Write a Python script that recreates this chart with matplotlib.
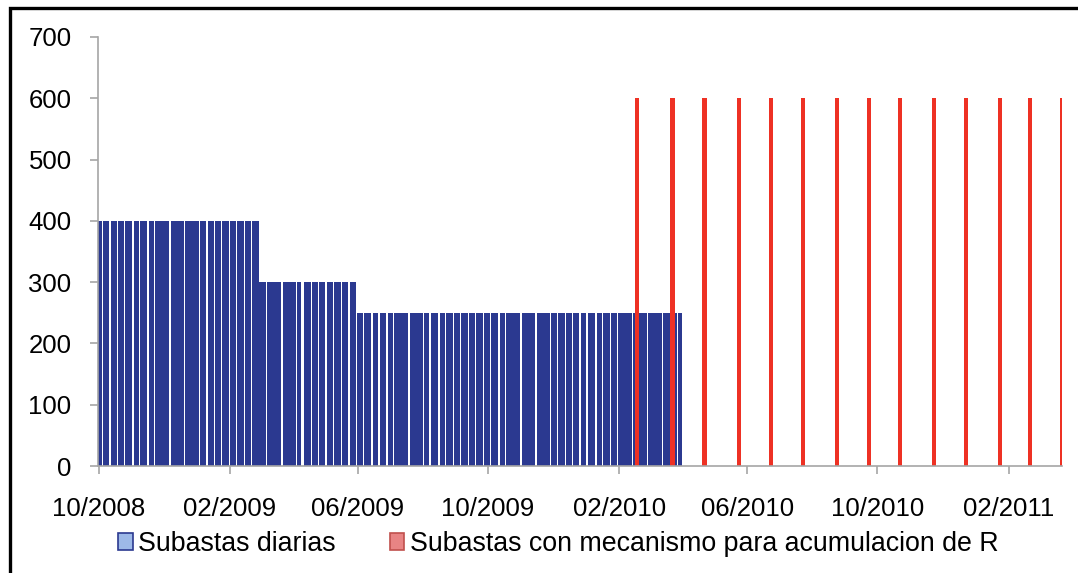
import pandas as pd
import matplotlib
matplotlib.use('Agg')
import matplotlib.pyplot as plt
import matplotlib.dates as mdates
from matplotlib.patches import Patch, Rectangle

# Daily auctions: step levels (start date of each level, value)
daily_starts = ['2008-10-01', '2009-03-02', '2009-06-01']
daily_values = [400, 300, 250]
daily_end = '2010-03-31'
# non-trading days (Colombian holidays) -> gaps between bars
holidays = ['2008-10-13', '2008-11-03', '2008-11-17', '2008-12-08', '2008-12-25',
            '2009-01-01', '2009-01-12', '2009-03-23', '2009-04-09', '2009-04-10',
            '2009-05-01', '2009-05-25', '2009-06-15', '2009-06-22', '2009-06-29',
            '2009-07-20', '2009-08-07', '2009-08-17', '2009-10-12', '2009-11-02',
            '2009-11-16', '2009-12-08', '2009-12-25', '2010-01-01', '2010-01-11',
            '2010-03-22']

# Auctions with reserve accumulation mechanism
reserve_dates = ['2010-02-18', '2010-03-23', '2010-04-22', '2010-05-24', '2010-06-23',
                 '2010-07-23', '2010-08-24', '2010-09-23', '2010-10-22', '2010-11-23',
                 '2010-12-23', '2011-01-24', '2011-02-21', '2011-03-23']
reserve_values = [600] * len(reserve_dates)

# build the daily series from the step levels
days = pd.bdate_range(daily_starts[0], daily_end, freq='C', holidays=holidays)
levels = pd.Series(daily_values, index=pd.to_datetime(daily_starts))
daily = levels.reindex(days, method='ffill')

plt.rcParams['font.family'] = ['Liberation Sans', 'DejaVu Sans']

fig = plt.figure(figsize=(10.78, 5.73), dpi=100)
ax = fig.add_axes([98 / 1078, 1 - 466 / 573, (1062 - 98) / 1078, (466 - 37) / 573])

ax.bar(daily.index, daily.values, width=2.3, color='#2B3990', linewidth=0)
ax.bar(pd.to_datetime(reserve_dates), reserve_values, width=4.0, color='#EE3124',
       linewidth=0)

ax.set_ylim(0, 700)
ax.set_yticks(range(0, 701, 100))
ax.set_xlim(pd.Timestamp('2008-09-30 12:00'), pd.Timestamp('2011-03-23'))
ax.xaxis.set_major_locator(mdates.MonthLocator(bymonth=[2, 6, 10]))
ax.xaxis.set_major_formatter(mdates.DateFormatter('%m/%Y'))

for side in ['top', 'right']:
    ax.spines[side].set_visible(False)
for side in ['left', 'bottom']:
    ax.spines[side].set_color('#A6A6A6')
    ax.spines[side].set_linewidth(1.2)
ax.tick_params(axis='both', colors='#A6A6A6', labelcolor='black', labelsize=18.5,
               length=6, width=1.2)
ax.tick_params(axis='y', pad=13)
ax.tick_params(axis='x', pad=16)

handles = [Patch(facecolor='#9DB9E8', edgecolor='#2B3990', linewidth=1.2,
                 label='Subastas diarias'),
           Patch(facecolor='#E88484', edgecolor='#C0504D', linewidth=1.2,
                 label='Subastas con mecanismo para acumulacion de R')]
fig.legend(handles=handles, loc='center', bbox_to_anchor=(0.518, 1 - 544 / 573), ncol=2,
           frameon=False, fontsize=19.3, handlelength=0.55, handleheight=0.55,
           handletextpad=0.2, columnspacing=2.0, borderaxespad=0)

# black frame around the chart
fig.patches.append(Rectangle((10 / 1078, -0.1), 1.2, 1.1 - 8.5 / 573, transform=fig.transFigure,
                             fill=False, edgecolor='black', linewidth=2.4))

fig.savefig('out.png', dpi=100)
